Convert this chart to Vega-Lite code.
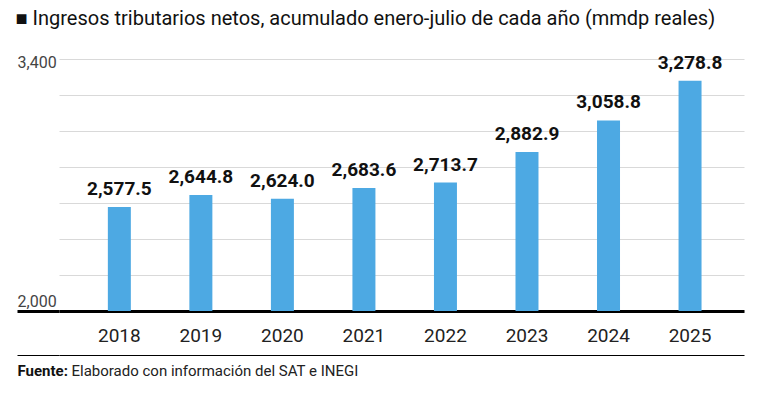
{
  "$schema": "https://vega.github.io/schema/vega-lite/v6.json",
  "width": 685,
  "height": 296,
  "padding": {"left": 15, "top": 8, "right": 20, "bottom": 10},
  "background": "white",
  "title": {
    "text": "■ Ingresos tributarios netos, acumulado enero-julio de cada año (mmdp reales)",
    "anchor": "start",
    "frame": "bounds",
    "font": "Roboto",
    "fontSize": 20,
    "fontWeight": "normal",
    "color": "#111",
    "offset": 25
  },
  "data": {
    "values": [
      {"year": "2018", "value": 2577.5},
      {"year": "2019", "value": 2644.8},
      {"year": "2020", "value": 2624.0},
      {"year": "2021", "value": 2683.6},
      {"year": "2022", "value": 2713.7},
      {"year": "2023", "value": 2882.9},
      {"year": "2024", "value": 3058.8},
      {"year": "2025", "value": 3278.8}
    ]
  },
  "encoding": {
    "x": {
      "field": "year",
      "type": "nominal",
      "sort": null,
      "scale": {"paddingInner": 0.718, "paddingOuter": 0.56, "align": 0.535},
      "axis": {
        "offset": -44,
        "title": "Elaborado con información del SAT e INEGI",
        "titleX": 12,
        "titleY": 64,
        "titleAlign": "left",
        "titleBaseline": "alphabetic",
        "titleFont": "Roboto",
        "titleFontSize": 15,
        "titleFontWeight": "normal",
        "titleColor": "#222",
        "labelAngle": 0,
        "labelFont": "Roboto",
        "labelFontSize": 19,
        "labelColor": "#222",
        "labelPadding": 15,
        "ticks": false,
        "domainColor": "#000",
        "domainWidth": 3,
        "grid": false
      }
    },
    "y": {
      "field": "value",
      "type": "quantitative",
      "scale": {"domain": [1756, 3400], "zero": false, "nice": false},
      "axis": {
        "values": [1756, 2000, 2200, 2400, 2600, 2800, 3000, 3200, 3400],
        "title": "Fuente:",
        "titleX": -42,
        "titleY": 316,
        "titleAngle": 0,
        "titleAlign": "left",
        "titleBaseline": "alphabetic",
        "titleFont": "Roboto",
        "titleFontSize": 15,
        "titleFontWeight": "bold",
        "titleColor": "#111",
        "format": ",d",
        "labelExpr": "datum.value == 2000 || datum.value == 3400 ? datum.label : ''",
        "labelFont": "Roboto",
        "labelFontSize": 16,
        "labelColor": "#444",
        "labelAlign": "left",
        "labelBaseline": "middle",
        "labelOffset": {"condition": {"test": "datum.value == 3400", "value": 3}, "value": -10},
        "labelPadding": 0,
        "labelFlush": false,
        "labelBound": false,
        "labelOverlap": false,
        "tickSize": 42,
        "tickColor": {"condition": {"test": "datum.value == 2000 || datum.value == 1756", "value": "#000"}, "value": "transparent"},
        "tickWidth": {"condition": {"test": "datum.value == 2000", "value": 3}, "value": 1},
        "grid": true,
        "gridColor": {"condition": {"test": "datum.value == 1756", "value": "#000"}, "value": "#d9d9d9"},
        "gridWidth": 1,
        "domain": false
      }
    }
  },
  "layer": [
    {
      "mark": {"type": "bar", "color": "#4DA9E3"},
      "encoding": {"y2": {"datum": 2000}}
    },
    {
      "mark": {"type": "text", "baseline": "alphabetic", "dy": -12, "font": "Roboto", "fontSize": 19, "fontWeight": "bold", "color": "#111"},
      "encoding": {"text": {"field": "value", "type": "quantitative", "format": ",.1f"}}
    }
  ],
  "config": {"view": {"stroke": null}}
}
